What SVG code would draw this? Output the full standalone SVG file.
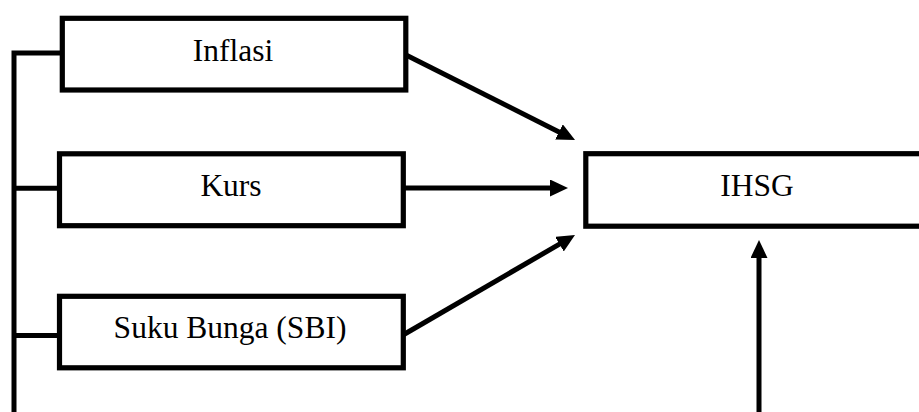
<svg xmlns="http://www.w3.org/2000/svg" width="919" height="412" viewBox="0 0 919 412">
<style>
.box{fill:#fff;stroke:#000;stroke-width:5.2}
.lbl{font-family:"Liberation Serif","Times New Roman",serif;font-size:31.5px;fill:#000;text-anchor:middle}
.conn{fill:none;stroke:#000;stroke-width:5}
</style>
<defs>
<marker id="ah" markerUnits="userSpaceOnUse" markerWidth="18" markerHeight="17" viewBox="0 0 18 17" refX="10" refY="8.5" orient="auto">
<path d="M0,0 L18,8.5 L0,17 z" fill="#000"/>
</marker>
</defs>
<g id="connectors">
<path class="conn" d="M14,412 V53 H62"/>
<path class="conn" d="M14,188.3 H59"/>
<path class="conn" d="M14,335.5 H59"/>
<line class="conn" x1="406" y1="55" x2="567.9" y2="136.4" marker-end="url(#ah)"/>
<line class="conn" x1="403" y1="188" x2="560" y2="188" marker-end="url(#ah)"/>
<line class="conn" x1="403" y1="335" x2="568.1" y2="239.1" marker-end="url(#ah)"/>
<line class="conn" x1="759" y1="412" x2="759" y2="248" marker-end="url(#ah)"/>
</g>
<g id="inflasi">
<rect class="box" x="62.3" y="18.3" width="343.5" height="71.7"/>
<text class="lbl" x="233" y="61">Inflasi</text>
</g>
<g id="kurs">
<rect class="box" x="59.5" y="153.8" width="343.8" height="71.9"/>
<text class="lbl" x="231" y="196">Kurs</text>
</g>
<g id="suku-bunga">
<rect class="box" x="59.5" y="296.3" width="343.8" height="71.5"/>
<text class="lbl" x="230" y="338">Suku Bunga (SBI)</text>
</g>
<g id="ihsg">
<rect class="box" x="585.8" y="153.7" width="400" height="72.5"/>
<text class="lbl" x="757" y="196">IHSG</text>
</g>
</svg>
